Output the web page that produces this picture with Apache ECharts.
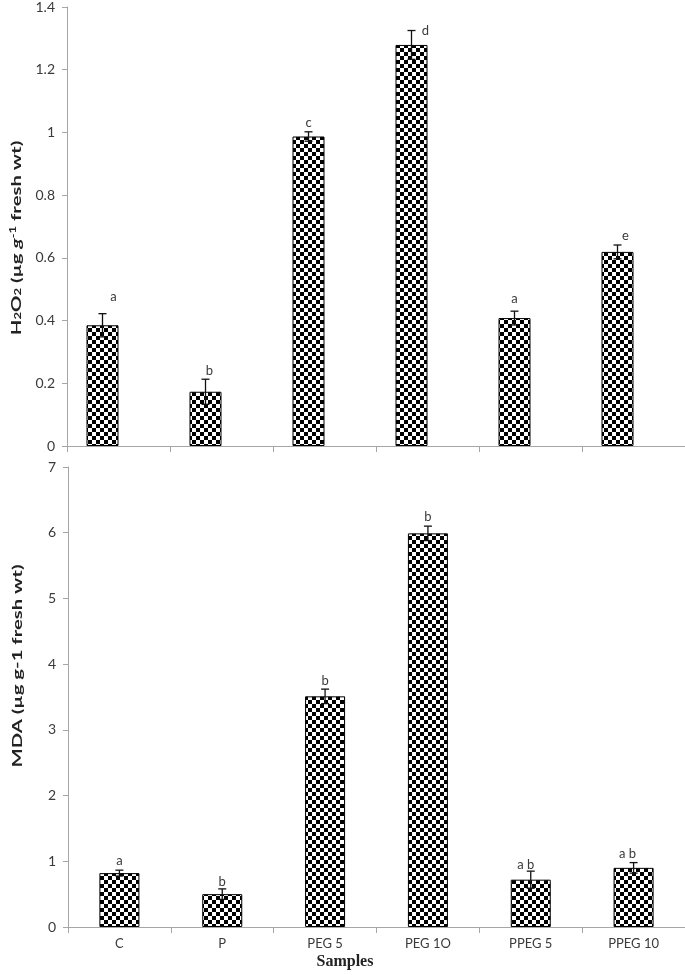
<!DOCTYPE html>
<html>
<head>
<meta charset="utf-8">
<script src="https://cdn.jsdelivr.net/npm/echarts@6/dist/echarts.min.js"></script>
<style>
  html, body { margin: 0; padding: 0; background: #fff; }
  #chart { width: 685px; height: 975px; }
</style>
</head>
<body>
<div id="chart"></div>
<script>
// ---------------- data ----------------
const categories = ['C', 'P', 'PEG 5', 'PEG 1O', 'PPEG 5', 'PPEG 10'];

const h2o2Values  = [0.385, 0.173, 0.987, 1.279, 0.408, 0.619];
const h2o2Errors  = [0.037, 0.040, 0.015, 0.046, 0.022, 0.022];
const h2o2Letters = ['a', 'b', 'c', 'd', 'a', 'e'];

const mdaValues  = [0.82, 0.50, 3.51, 5.99, 0.72, 0.90];
const mdaErrors  = [0.045, 0.080, 0.110, 0.110, 0.130, 0.080];
const mdaLetters = ['a', 'b', 'b', 'b', 'a b', 'a b'];

const h2o2AxisMax = 1.4, h2o2AxisStep = 0.2;
const mdaAxisMax = 7, mdaAxisStep = 1;

// ---------------- layout / style (not data) ----------------
const h2o2LetterDx = [11, 4, 0, 14, 0, 8];
const h2o2LetterDy = [-17, -8, -9, 0, -12, -9];
const mdaLetterDx = [0, 0, 0, 0, -5, -6];
const mdaLetterDy = [-9, -7, -8, -9, -6, -9];

const TOP_BAR_W = 32;
const BOT_BAR_W = 40;
const AXIS_GREY = '#a6a6a6';
const TEXT_COL = '#3a3a3a';
const FONT = 'Lato, "Open Sans", sans-serif';

// checkerboard pattern
function makePattern() {
  const c = document.createElement('canvas');
  c.width = 8; c.height = 8;
  const g = c.getContext('2d');
  g.fillStyle = '#ffffff'; g.fillRect(0, 0, 8, 8);
  g.fillStyle = '#000000';
  g.fillRect(0, 0, 4, 4);
  g.fillRect(4, 4, 4, 4);
  return c;
}
const pattern = { image: makePattern(), repeat: 'repeat' };

function errorRenderer(shift, letters, dxs, dys) {
  return function (params, api) {
    const i = api.value(0), v = api.value(1), e = api.value(2);
    const top = api.coord([i, v + e]);
    const bot = api.coord([i, v - e]);
    const x = top[0] + shift;
    const cap = 4;
    const st = { stroke: '#111', lineWidth: 1.3 };
    return {
      type: 'group',
      children: [
        { type: 'line', shape: { x1: x, y1: top[1], x2: x, y2: bot[1] }, style: st },
        { type: 'line', shape: { x1: x - cap, y1: top[1], x2: x + cap, y2: top[1] }, style: st },
        { type: 'line', shape: { x1: x - cap, y1: bot[1], x2: x + cap, y2: bot[1] }, style: st },
        {
          type: 'text',
          x: x + dxs[i], y: top[1] + dys[i],
          style: {
            text: letters[i], fill: TEXT_COL, font: '13px ' + FONT,
            align: 'center', verticalAlign: 'middle'
          }
        }
      ]
    };
  };
}

const chart = echarts.init(document.getElementById('chart'), null, { renderer: 'canvas' });

const yAxisCommon = {
  type: 'value', min: 0,
  axisLine: { show: true, lineStyle: { color: AXIS_GREY, width: 1 } },
  axisTick: { show: true, length: 5, lineStyle: { color: AXIS_GREY } },
  splitLine: { show: false },
  axisLabel: { color: TEXT_COL, fontSize: 14, fontFamily: FONT, margin: 12 }
};
const xAxisCommon = {
  type: 'category', data: categories,
  axisLine: { show: true, lineStyle: { color: AXIS_GREY, width: 1 } },
  axisTick: { show: true, length: 6, interval: 0, lineStyle: { color: AXIS_GREY } },
  splitLine: { show: false }
};

const option = {
  animation: false,
  backgroundColor: '#ffffff',
  grid: [
    { left: 67, top: 7, height: 439, right: -24 },
    { left: 68, top: 467, height: 460, right: 0 }
  ],
  xAxis: [
    Object.assign({}, xAxisCommon, { gridIndex: 0, axisLabel: { show: false } }),
    Object.assign({}, xAxisCommon, {
      gridIndex: 1,
      axisLabel: { show: true, interval: 0, color: TEXT_COL, fontSize: 13, fontFamily: FONT, margin: 10 }
    })
  ],
  yAxis: [
    Object.assign({}, yAxisCommon, { gridIndex: 0, max: h2o2AxisMax, interval: h2o2AxisStep }),
    Object.assign({}, yAxisCommon, { gridIndex: 1, max: mdaAxisMax, interval: mdaAxisStep })
  ],
  series: [
    {
      type: 'bar', xAxisIndex: 0, yAxisIndex: 0,
      data: h2o2Values, barWidth: TOP_BAR_W, barGap: '0%',
      itemStyle: { color: pattern, borderColor: '#000', borderWidth: 1 }
    },
    {
      type: 'bar', xAxisIndex: 0, yAxisIndex: 0,
      data: categories.map(() => '-'), barWidth: TOP_BAR_W, barGap: '0%'
    },
    {
      type: 'bar', xAxisIndex: 1, yAxisIndex: 1,
      data: mdaValues, barWidth: BOT_BAR_W,
      itemStyle: { color: pattern, borderColor: '#000', borderWidth: 1 }
    },
    {
      type: 'custom', xAxisIndex: 0, yAxisIndex: 0, z: 5,
      data: h2o2Values.map((v, i) => [i, v, h2o2Errors[i]]),
      renderItem: errorRenderer(-TOP_BAR_W / 2, h2o2Letters, h2o2LetterDx, h2o2LetterDy)
    },
    {
      type: 'custom', xAxisIndex: 1, yAxisIndex: 1, z: 5,
      data: mdaValues.map((v, i) => [i, v, mdaErrors[i]]),
      renderItem: errorRenderer(0, mdaLetters, mdaLetterDx, mdaLetterDy)
    }
  ],
  graphic: [
    {
      type: 'text', x: 16, y: 238, rotation: Math.PI / 2, scaleX: 1.45,
      style: {
        text: '{b|H}{s|2}{b|O}{s|2}{b| (µg }{i|g}{p|-1}{b| fresh wt)}',
        align: 'center', verticalAlign: 'middle', fill: '#222',
        rich: {
          b: { fontFamily: FONT, fontWeight: 'bold', fontSize: 14, fill: '#222' },
          i: { fontFamily: FONT, fontWeight: 'bold', fontStyle: 'italic', fontSize: 14, fill: '#222' },
          s: { fontFamily: FONT, fontWeight: 'bold', fontSize: 9, verticalAlign: 'bottom', fill: '#222' },
          p: { fontFamily: FONT, fontWeight: 'bold', fontSize: 9, verticalAlign: 'top', fill: '#222' }
        }
      }
    },
    {
      type: 'text', x: 17, y: 666, rotation: Math.PI / 2, scaleX: 1.45,
      style: {
        text: 'MDA (µg g-1 fresh wt)',
        align: 'center', verticalAlign: 'middle', fill: '#222',
        font: 'bold 14px ' + FONT
      }
    },
    {
      type: 'text', x: 345, y: 962,
      style: {
        text: 'Samples', align: 'center', verticalAlign: 'middle', fill: '#222',
        font: 'bold 16px "Liberation Serif", "DejaVu Serif", serif'
      }
    }
  ]
};

chart.setOption(option);
</script>
</body>
</html>
